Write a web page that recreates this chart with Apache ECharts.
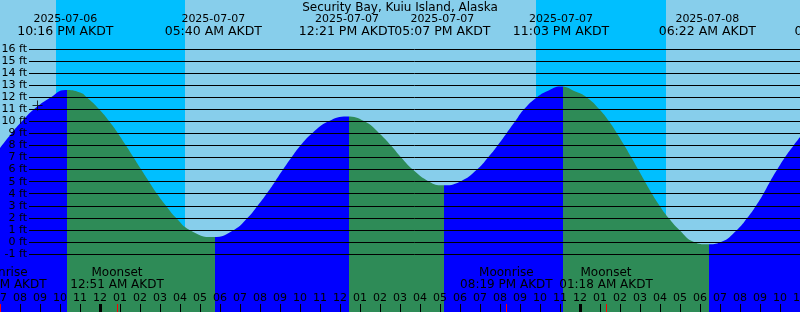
<!DOCTYPE html>
<html><head><meta charset="utf-8">
<style>html,body{margin:0;padding:0;background:#87CEEB;overflow:hidden}#c{width:800px;height:312px}</style>
<script src="https://cdn.jsdelivr.net/npm/echarts@6/dist/echarts.min.js"></script>
</head><body><div id="c"></div>
<script>
// ---- data (hours measured from 2025-07-07 00:00 AKDT) ----
const chartTitle = 'Security Bay, Kuiu Island, Alaska';
const hourMin = -5, hourMax = 35;
const tideHours = [-5.00,-4.43,-3.9,-3.3,-2.45,-1.733,-1.0,-0.66,-0.04,0.46,0.9,1.3,1.68,2.06,2.45,2.85,3.3,3.8,4.48,5.667,
  6.7,7.38,7.88,8.33,8.75,9.15,9.57,10.02,10.6,11.43,12.35,13.22,13.97,14.55,15.06,15.64,16.46,17.117,
  18.0,18.85,19.4,19.88,20.32,20.76,21.2,21.85,22.35,23.05,23.8,24.33,24.97,25.45,25.85,26.22,26.57,26.91,27.25,27.6,27.98,28.42,28.97,29.7,30.367,
  31.05,31.85,32.37,32.8,33.17,33.5,33.86,34.24,34.68,35.0];
const tideFeet = [7.8,9.0,10.0,11.0,12.0,12.6,12.4,12.0,11.0,10.0,9.0,8.0,7.0,6.0,5.0,4.0,3.0,2.0,1.0,0.4,
  1.0,2.0,3.0,4.0,5.0,6.0,7.0,8.0,9.0,10.0,10.4,10.0,9.0,8.0,7.0,6.0,5.0,4.7,
  5.0,6.0,7.0,8.0,9.0,10.0,11.0,12.0,12.5,12.9,12.45,12.0,11.0,10.0,9.0,8.0,7.0,6.0,5.0,4.0,3.0,2.0,1.0,0.0,-0.2,
  0.0,1.0,2.0,3.0,4.0,5.0,6.0,7.0,8.0,8.7];
const extremeHours = [-1.733, 5.667, 12.35, 17.117, 23.05, 30.367, 37.13];
const extremeKinds = ['High','Low','High','Low','High','Low','High'];
const extremeDates = ['2025-07-06','2025-07-07','2025-07-07','2025-07-07','2025-07-07','2025-07-08','2025-07-08'];
const extremeTimes = ['10:16 PM AKDT','05:40 AM AKDT','12:21 PM AKDT','05:07 PM AKDT','11:03 PM AKDT','06:22 AM AKDT','01:08 PM AKDT'];
const moonHours = [-4.985, 0.85, 20.317, 25.3];
const moonEvents = ['Moonrise','Moonset','Moonrise','Moonset'];
const moonTimes = ['07:01 PM AKDT','12:51 AM AKDT','08:19 PM AKDT','01:18 AM AKDT'];
const sunsetHours = [-2.2, 21.8];
const sunriseHours = [4.25, 28.3];
const midnightHours = [0, 24];
const nowMark = [-3.125, 11.32];
const feetMin = -1, feetMax = 16;

// ---- styles ----
const DAY = '#87CEEB', NIGHT = '#00BFFF', RISING = '#0000FF', FALLING = '#2E8B57';
const FONT = '"DejaVu Sans", sans-serif';
const phaseLag = 0.083;

const pieces = [];
extremeHours.forEach((h, i) => {
  const col = extremeKinds[i] === 'High' ? RISING : FALLING;
  const b = h + phaseLag;
  if (i === 0) pieces.push({ lt: b, color: col });
  else pieces.push({ gte: extremeHours[i - 1] + phaseLag, lt: b, color: col });
});
pieces.push({ gte: extremeHours[extremeHours.length - 1] + phaseLag,
  color: extremeKinds[extremeKinds.length - 1] === 'High' ? FALLING : RISING });

const hourFmt = v => {
  const h = ((Math.round(v) % 24) + 24) % 24;
  const h12 = h % 12 === 0 ? 12 : h % 12;
  return String(h12).padStart(2, '0');
};

const chart = echarts.init(document.getElementById('c'), null, { renderer: 'canvas' });
const baseX = { type: 'value', min: hourMin, max: hourMax, gridIndex: 0, position: 'bottom',
  axisLine: { show: false, onZero: false }, splitLine: { show: false } };
const pxPerFt = 205 / (feetMax - feetMin);
chart.setOption({
  animation: false,
  backgroundColor: DAY,
  grid: [
    { left: 0, right: 0, top: 0, bottom: 0, containLabel: false, outerBoundsMode: 'none' },
    { left: 29, right: 0, top: 49, height: 205, containLabel: false, outerBoundsMode: 'none' }
  ],
  xAxis: [
    Object.assign({}, baseX, { interval: 1, z: 10,
      axisTick: { show: true, inside: true, length: 8, lineStyle: { color: '#000', width: 1 } },
      axisLabel: { show: true, inside: true, margin: 14, verticalAlign: 'middle', interval: 0,
        showMinLabel: true, showMaxLabel: true, hideOverlap: false,
        fontSize: 11, fontFamily: FONT, color: '#000', formatter: hourFmt } }),
    Object.assign({}, baseX, { z: 10,
      axisTick: { show: true, inside: true, length: 8, customValues: midnightHours, lineStyle: { color: '#000', width: 3 } },
      axisLabel: { show: false } }),
    Object.assign({}, baseX, { z: 11,
      axisTick: { show: true, inside: true, length: 8, customValues: moonHours, lineStyle: { color: '#FF0000', width: 1 } },
      axisLabel: { show: false } }),
    { type: 'value', gridIndex: 1, min: hourMin, max: hourMax, show: false }
  ],
  yAxis: [
    { type: 'value', gridIndex: 0, min: feetMin - (312 - 49 - 205) / pxPerFt,
      max: feetMax + 49 / pxPerFt, show: false },
    { type: 'value', gridIndex: 1, min: feetMin, max: feetMax, interval: 1, z: 10,
      axisLine: { show: false }, axisTick: { show: false },
      splitLine: { show: true, lineStyle: { color: '#000', width: 1 } },
      axisLabel: { show: true, margin: 2, fontSize: 11, fontFamily: FONT, color: '#000', formatter: '{value} ft' } }
  ],
  visualMap: [{ type: 'piecewise', show: false, dimension: 0, seriesIndex: 1, pieces: pieces }],
  series: [
    { type: 'line', xAxisIndex: 0, yAxisIndex: 0, data: [], z: 1, silent: true,
      markArea: { silent: true, itemStyle: { color: NIGHT }, label: { show: false },
        data: sunsetHours.map((s, i) => [{ xAxis: s }, { xAxis: sunriseHours[i] }]) } },
    { type: 'line', xAxisIndex: 0, yAxisIndex: 0, z: 2, silent: true,
      data: tideHours.map((h, i) => [h, tideFeet[i]]),
      showSymbol: false, smooth: 0.5, lineStyle: { width: 0 },
      areaStyle: { opacity: 1, origin: 'start' } },
    { type: 'scatter', xAxisIndex: 0, yAxisIndex: 0, z: 12, silent: true,
      data: [nowMark], symbol: 'path://M0,4.5H10V5.5H0Z M4.5,0H5.5V10H4.5Z', symbolSize: 10,
      itemStyle: { color: '#000' } }
  ]
});

const px = h => chart.convertToPixel({ xAxisIndex: 0 }, h);
const texts = [];
const txt = (x, y, s, size) => texts.push({ type: 'text', x: x, y: y, z: 100, silent: true,
  style: { text: s, fontSize: size, fontFamily: FONT, fill: '#000', align: 'center', verticalAlign: 'middle' } });
txt(400, 8, chartTitle, 12);
extremeHours.forEach((h, i) => {
  txt(px(h), 19, extremeDates[i], 11);
  txt(px(h), 32, extremeTimes[i], 12.5);
});
moonHours.forEach((h, i) => {
  txt(px(h), 273, moonEvents[i], 12);
  txt(px(h), 285, moonTimes[i], 12);
});
chart.setOption({ graphic: texts });
</script></body></html>
